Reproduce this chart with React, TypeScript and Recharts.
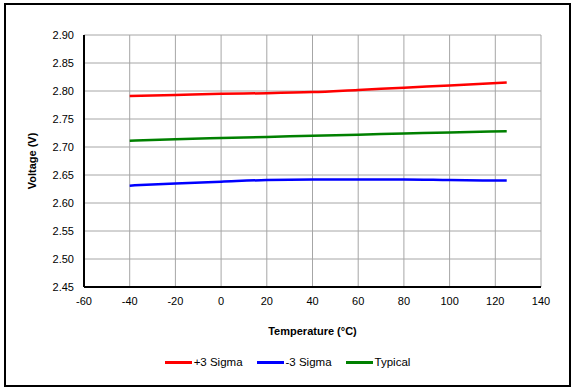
import React from 'react';
import { LineChart, Line, XAxis, YAxis, CartesianGrid, Legend, Label } from 'recharts';

const temperatures = [-40, -20, 0, 20, 40, 60, 80, 100, 125];
const plus3Sigma = [2.791, 2.793, 2.795, 2.796, 2.798, 2.802, 2.806, 2.810, 2.815];
const minus3Sigma = [2.631, 2.635, 2.638, 2.641, 2.642, 2.642, 2.642, 2.641, 2.640];
const typical = [2.711, 2.714, 2.716, 2.718, 2.720, 2.722, 2.724, 2.726, 2.728];

const xTicks = [-60, -40, -20, 0, 20, 40, 60, 80, 100, 120, 140];
const yTicks = [2.45, 2.5, 2.55, 2.6, 2.65, 2.7, 2.75, 2.8, 2.85, 2.9];

const seriesInfo = [
  { key: 'plus', name: '+3 Sigma', color: '#ff0000' },
  { key: 'minus', name: '-3 Sigma', color: '#0000ff' },
  { key: 'typ', name: 'Typical', color: '#008000' },
];

const chartData = temperatures.map((t, i) => ({
  temp: t,
  plus: plus3Sigma[i],
  minus: minus3Sigma[i],
  typ: typical[i],
}));

const FONT = '"Liberation Sans", Arial, sans-serif';

const LegendContent = () => (
  <div style={{ display: 'flex', justifyContent: 'center', fontFamily: FONT, fontSize: 11.5, color: '#000', height: 16, lineHeight: '16px', paddingLeft: 2 }}>
    {seriesInfo.map((s, i) => (
      <div key={s.key} style={{ display: 'flex', alignItems: 'center', marginLeft: i === 0 ? 0 : 14 }}>
        <div style={{ width: 27, height: 3, background: s.color, marginRight: 2 }} />
        <span>{s.name}</span>
      </div>
    ))}
  </div>
);

export default function App() {
  return (
    <div style={{ position: 'absolute', left: 0, top: 0, width: 573, height: 387, background: '#fff' }}>
      <div
        style={{
          position: 'absolute', left: 4, top: 3, width: 567, height: 384,
          border: '2px solid #000', boxSizing: 'border-box',
        }}
      />
      <LineChart
        width={573}
        height={387}
        data={chartData}
        margin={{ top: 35, right: 32, left: 0, bottom: 0 }}
        style={{ fontFamily: FONT }}
      >
        <CartesianGrid stroke="#a6a6a6" strokeWidth={1} />
        <XAxis
          dataKey="temp"
          type="number"
          domain={[-60, 140]}
          ticks={xTicks}
          tickLine={false}
          axisLine={{ stroke: '#000', strokeWidth: 2 }}
          tick={{ fill: '#000', fontSize: 11 }}
          tickMargin={4}
          height={64}
        >
          <Label value="Temperature (°C)" position="insideBottom" offset={16} style={{ fontWeight: 'bold', fontSize: 11, fill: '#000' }} />
        </XAxis>
        <XAxis xAxisId="top" orientation="top" dataKey="temp" type="number" domain={[-60, 140]} tick={false} tickLine={false} height={0} axisLine={{ stroke: '#000', strokeWidth: 2 }} />
        <YAxis
          type="number"
          domain={[2.45, 2.9]}
          ticks={yTicks}
          tickFormatter={(v: number) => v.toFixed(2)}
          tickLine={false}
          axisLine={{ stroke: '#000', strokeWidth: 2 }}
          tick={{ fill: '#000', fontSize: 11 }}
          tickMargin={4}
          width={84}
        >
          <Label value="Voltage (V)" angle={-90} position="insideLeft" offset={32} style={{ fontWeight: 'bold', fontSize: 11, fill: '#000', textAnchor: 'middle' }} />
        </YAxis>
        <YAxis yAxisId="right" orientation="right" domain={[2.45, 2.9]} tick={false} tickLine={false} width={0} axisLine={{ stroke: '#000', strokeWidth: 2 }} />
        {seriesInfo.map(s => (
          <Line
            key={s.key}
            type="monotone"
            dataKey={s.key}
            name={s.name}
            stroke={s.color}
            strokeWidth={2.5}
            dot={false}
            isAnimationActive={false}
          />
        ))}
        <Legend
          verticalAlign="bottom"
          height={36}
          content={<LegendContent />}
          wrapperStyle={{ left: 0, width: 573, top: 354, bottom: 'auto' }}
        />
      </LineChart>
    </div>
  );
}
